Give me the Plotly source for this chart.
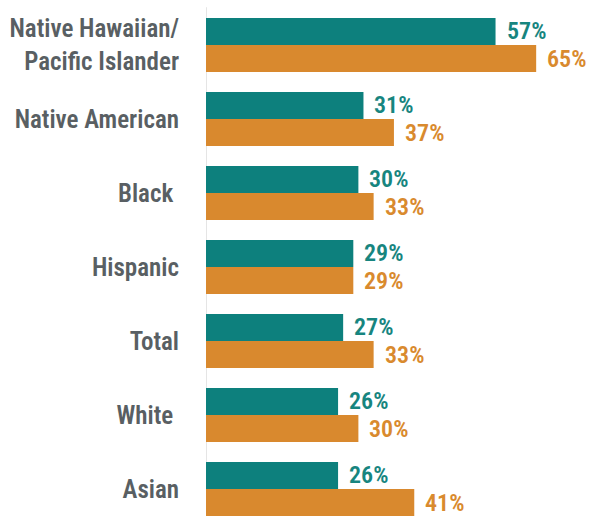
import plotly.graph_objects as go

groups = [
    "Native Hawaiian/<br>Pacific Islander",
    "Native American",
    "Black\u00a0",
    "Hispanic",
    "Total",
    "White\u00a0",
    "Asian",
]
series_a = [57, 31, 30, 29, 27, 26, 26]
series_b = [65, 37, 33, 29, 33, 30, 41]

teal = "#0d807d"
orange = "#d9892e"
teal_text = "#17857f"
orange_text = "#d98a2e"
label_gray = "#595f63"
font_family = "Liberation Sans Narrow, Roboto Condensed, DejaVu Sans Condensed, Arial Narrow, sans-serif"

pos = list(range(len(groups)))
bar_w = 0.365

fig = go.Figure()
fig.add_trace(go.Bar(y=pos, x=series_a, orientation="h", marker=dict(color=teal, line=dict(width=0)),
                     showlegend=False, hoverinfo="skip"))
fig.add_trace(go.Bar(y=pos, x=series_b, orientation="h", marker=dict(color=orange, line=dict(width=0)),
                     showlegend=False, hoverinfo="skip"))

annotations = []
for i, (a, b) in enumerate(zip(series_a, series_b)):
    annotations.append(dict(x=a, y=i - bar_w / 2, xref="x", yref="y", text=f"{a}%", showarrow=False,
                            xanchor="left", yanchor="middle", xshift=9,
                            font=dict(family=font_family, size=24, color=teal_text, weight=600)))
    annotations.append(dict(x=b, y=i + bar_w / 2, xref="x", yref="y", text=f"{b}%", showarrow=False,
                            xanchor="left", yanchor="middle", xshift=9,
                            font=dict(family=font_family, size=24, color=orange_text, weight=600)))

fig.update_layout(
    width=589, height=516,
    margin=dict(l=206, r=0, t=0, b=0),
    paper_bgcolor="white", plot_bgcolor="white",
    barmode="group", bargap=0.27, bargroupgap=0,
    font=dict(family=font_family),
    annotations=annotations,
    shapes=[dict(type="line", xref="x", yref="paper", x0=0, x1=0, y0=0, y1=0.986,
                 line=dict(color="#dcdcdc", width=1.5), layer="below")],
    xaxis=dict(range=[0, 75.4], visible=False, fixedrange=True),
    yaxis=dict(range=[6.365, -0.608], tickmode="array", tickvals=pos, ticktext=groups,
               showgrid=False, zeroline=False, showline=False, ticks="",
               ticklabelstandoff=26,
               tickfont=dict(family=font_family, size=25, color=label_gray, weight=600)),
)

fig.write_html("out.html")
